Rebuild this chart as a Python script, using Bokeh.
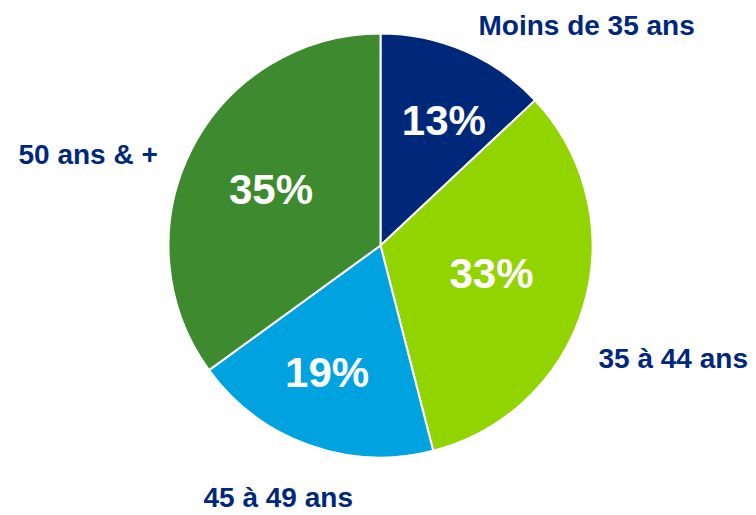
import math
from bokeh.plotting import figure
from bokeh.models import ColumnDataSource, Range1d
from bokeh.core.properties import value
from bokeh.embed import file_html
from bokeh.resources import INLINE

# ---- data ----
categories = ["Moins de 35 ans", "35 à 44 ans", "45 à 49 ans", "50 ans & +"]
shares = [13, 33, 19, 35]
colors = ["#00287A", "#92D400", "#00A3E0", "#3E8A2E"]

# ---- layout (page pixel geometry) ----
W, H = 754, 513
CX, CY, R = 380, 245, 212          # pie centre / radius in page pixels
pct_radius = [0.66, 0.54, 0.65, 0.58]  # radial position of % labels (fraction of R)
pct_turn = [3.5, -2.0, 3.0, 0.0]        # small angular nudge (degrees)
outer_offset = [(98, -220), (218, 113), (-177, 252), (-362, -91)]  # left/middle anchor rel. to centre
LABEL_COLOR = "#00287A"

def to_y(py):
    return H - py

total = sum(shares)
starts, ends, mids = [], [], []
acc = 0.0
for v in shares:
    a0 = acc / total
    acc += v
    a1 = acc / total
    starts.append(math.pi / 2 - a0 * 2 * math.pi)
    ends.append(math.pi / 2 - a1 * 2 * math.pi)
    mids.append((a0 + a1) / 2 * 360)

src = ColumnDataSource(dict(
    start=starts, end=ends, color=colors,
    x=[CX] * len(shares), y=[to_y(CY)] * len(shares)))

p = figure(width=W, height=H, output_backend="svg", toolbar_location=None,
           x_range=Range1d(0, W), y_range=Range1d(0, H),
           x_axis_type=None, y_axis_type=None, min_border=0,
           outline_line_color=None, background_fill_color="white",
           border_fill_color="white")
p.grid.visible = False

p.wedge(x="x", y="y", radius=R, start_angle="start", end_angle="end",
        direction="clock", fill_color="color", line_color="white",
        line_width=2, source=src)

# percentage labels
px, py, ptxt = [], [], []
for v, m, rf, t in zip(shares, mids, pct_radius, pct_turn):
    ang = math.radians(m + t)
    px.append(CX + rf * R * math.sin(ang))
    py.append(to_y(CY - rf * R * math.cos(ang)))
    ptxt.append(f"{v}%")
p.text(x=px, y=py, text=ptxt, text_color="white", text_font=value("Liberation Sans"),
       text_font_style="bold", text_font_size="42px", text_align="center",
       text_baseline="middle")

# category labels
ox = [CX + dx for dx, dy in outer_offset]
oy = [to_y(CY + dy) for dx, dy in outer_offset]
p.text(x=ox, y=oy, text=categories, text_color=LABEL_COLOR,
       text_font=value("Liberation Sans"), text_font_style="bold",
       text_font_size="28px", text_align="left", text_baseline="middle")

open("out.html", "w").write(file_html(p, INLINE))
